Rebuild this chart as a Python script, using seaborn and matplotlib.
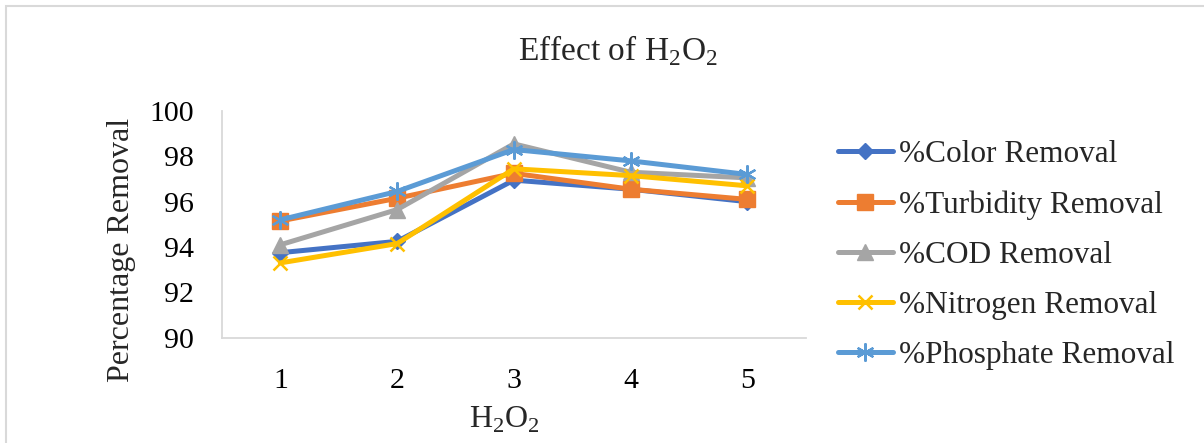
import matplotlib
matplotlib.use("Agg")
import matplotlib.pyplot as plt
from matplotlib.patches import Rectangle
from matplotlib.lines import Line2D
import seaborn as sns
import pandas as pd

# H2O2 dose levels and removal efficiencies (%)
doses = [1, 2, 3, 4, 5]
color_removal = [93.75, 94.25, 96.95, 96.55, 96.0]
turbidity_removal = [95.15, 96.15, 97.25, 96.55, 96.1]
cod_removal = [94.1, 95.65, 98.55, 97.3, 97.05]
nitrogen_removal = [93.3, 94.15, 97.45, 97.15, 96.7]
phosphate_removal = [95.2, 96.45, 98.3, 97.8, 97.2]

series_names = ["%Color Removal", "%Turbidity Removal", "%COD Removal",
                "%Nitrogen Removal", "%Phosphate Removal"]
series_values = [color_removal, turbidity_removal, cod_removal,
                 nitrogen_removal, phosphate_removal]
y_ticks = [90, 92, 94, 96, 98, 100]

palette = ["#4472C4", "#ED7D31", "#A5A5A5", "#FFC000", "#5B9BD5"]
markers = ["D", "s", "^", "x", (6, 2, 0)]
marker_sizes = [8, 11, 11, 10, 13]
marker_widths = [1, 1, 1, 1.8, 1.6]

df = pd.DataFrame({
    "dose": doses * len(series_names),
    "value": [v for vals in series_values for v in vals],
    "series": [n for n in series_names for _ in doses],
})

sns.set_style("white")
plt.rcParams["font.family"] = ["Liberation Serif", "DejaVu Serif"]
plt.rcParams["mathtext.fontset"] = "custom"
plt.rcParams["mathtext.rm"] = "Liberation Serif"

W, H = 1204, 443
fig = plt.figure(figsize=(W / 100, H / 100), dpi=100)
ax = fig.add_axes([222 / W, 1 - 337.7 / H, (805.7 - 222) / W, (337.7 - 111) / H])

handles = []
for name, col, mk, ms, mw in zip(series_names, palette, markers, marker_sizes, marker_widths):
    sub = df[df["series"] == name]
    sns.lineplot(data=sub, x="dose", y="value", ax=ax, color=col, linewidth=3.6,
                 marker=mk, markersize=ms, markeredgecolor=col, markerfacecolor=col,
                 markeredgewidth=mw, legend=False)
    handles.append(Line2D([], [], color=col, linewidth=3.6, marker=mk, markersize=ms,
                          markeredgecolor=col, markerfacecolor=col, markeredgewidth=mw))

ax.set_xlim(0.5, 5.5)
ax.set_ylim(90, 100)
ax.set_xticks(doses)
ax.set_xticklabels([str(d) for d in doses])
ax.set_yticks(y_ticks)
ax.tick_params(axis="both", length=0, labelsize=21.5, colors="black")
ax.tick_params(axis="x", pad=22)
ax.tick_params(axis="y", pad=20)

for side in ["top", "right"]:
    ax.spines[side].set_visible(False)
for side in ["left", "bottom"]:
    ax.spines[side].set_color("#D9D9D9")
    ax.spines[side].set_linewidth(1.3)

ax.set_xlabel(r"H$_\mathregular{2}$O$_\mathregular{2}$", fontsize=23, va="center")
ax.xaxis.set_label_coords((504 - 222) / (805.7 - 222), (337.7 - 420) / (337.7 - 111))
ax.set_ylabel("Percentage Removal", fontsize=23, va="center")
ax.yaxis.set_label_coords((122 - 222) / (805.7 - 222), (337.7 - 250) / (337.7 - 111))

fig.text(618 / W, 1 - 51 / H, r"Effect of H$_\mathregular{2}$O$_\mathregular{2}$",
         ha="center", va="center", fontsize=24)

fig.legend(handles, series_names, loc="center left",
           bbox_to_anchor=(838 / W, 1 - 255 / H), frameon=False,
           fontsize=22.5, handlelength=1.75, handletextpad=0.2,
           labelspacing=0.68, borderpad=0, borderaxespad=0)

# light chart-area frame
fig.add_artist(Rectangle((5.5 / W, -0.2), 1.2, 1.2 - 5.5 / H,
                         transform=fig.transFigure, fill=False,
                         edgecolor="#D9D9D9", linewidth=1.5, clip_on=False))

fig.savefig("out.png", dpi=100)
